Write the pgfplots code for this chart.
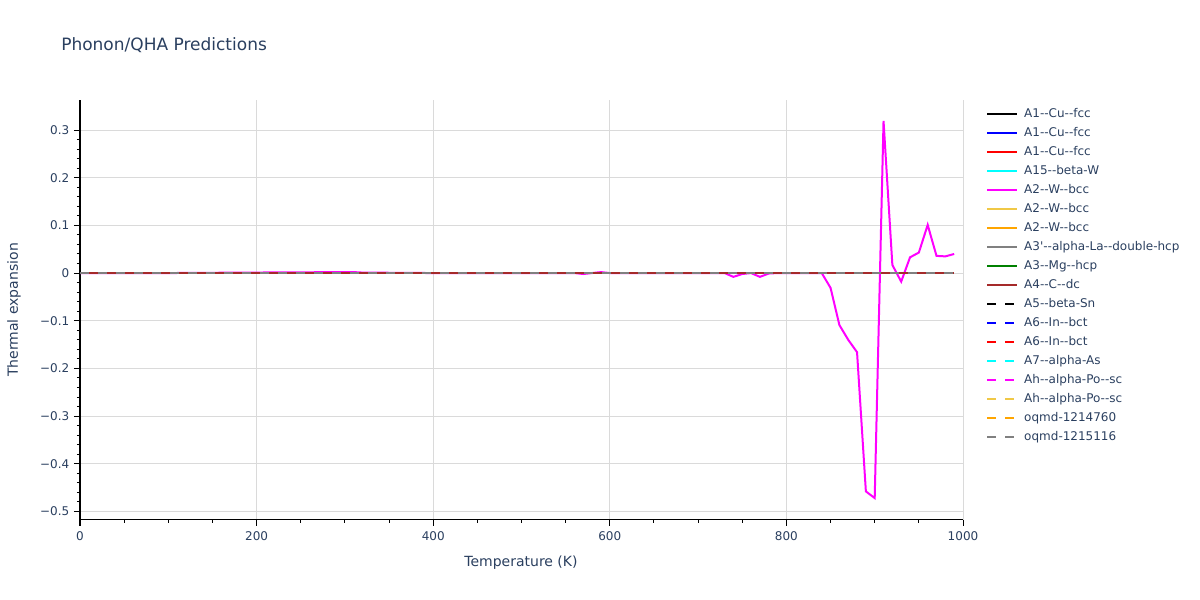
\documentclass[border=0pt]{standalone}
\usepackage{fontspec}
\setmainfont{DejaVu Sans}[Ligatures=TeXOff]
\usepackage{pgfplots}
\pgfplotsset{compat=1.18}
\definecolor{txt}{RGB}{42,63,95}
\definecolor{gridc}{RGB}{218,218,218}
\definecolor{gold}{RGB}{240,200,70}
\definecolor{orng}{RGB}{255,165,0}
\definecolor{grayc}{RGB}{128,128,128}
\definecolor{grn}{RGB}{0,128,0}
\definecolor{brwn}{RGB}{165,42,42}
\definecolor{mag}{RGB}{255,0,255}
\definecolor{cyn}{RGB}{0,255,255}
\definecolor{blu}{RGB}{0,0,255}
\definecolor{rd}{RGB}{255,0,0}
\begin{document}
\begin{tikzpicture}
\path[use as bounding box] (0pt,0pt) rectangle (900pt,450pt);
\node[anchor=west,text=txt,font=\fontsize{12.75}{15}\selectfont,inner sep=0pt] at (45.75pt,416.25pt) {Phonon/QHA Predictions};
\node[text=txt,font=\fontsize{10.5}{12}\selectfont,inner sep=0pt] at (390.75pt,27.75pt) {Temperature (K)};
\node[text=txt,font=\fontsize{10.5}{12}\selectfont,inner sep=0pt,rotate=90] at (10.5pt,217.5pt) {Thermal expansion};
\begin{axis}[
  at={(60pt,60pt)}, anchor=south west,
  scale only axis, width=662.25pt, height=315pt,
  xmin=0, xmax=1000, ymin=-0.518, ymax=0.363,
  axis x line*=bottom, axis y line*=left,
  axis line style={black, line width=0.75pt, -},
  xtick={0,200,400,600,800,1000},
  xticklabels={0,200,400,600,800,1000},
  minor x tick num=3,
  ytick={-0.5,-0.4,-0.3,-0.2,-0.1,0,0.1,0.2,0.3},
  yticklabels={−0.5,−0.4,−0.3,−0.2,−0.1,0,0.1,0.2,0.3},
  minor y tick num=4,
  tick align=outside,
  major tick length=4.5pt, minor tick length=2.25pt,
  tick style={black, line width=0.75pt},
  grid=major,
  major grid style={gridc, line width=0.75pt},
  ticklabel style={text=txt, font=\fontsize{9}{11}\selectfont},
  xticklabel style={yshift=-1pt},
  clip=true,
  legend style={at={(1.026,0.981)}, anchor=north west, draw=none, fill=none,
    inner sep=0pt, font=\fontsize{9}{11}\selectfont, text=txt,
    nodes={inner sep=0pt, text height=7pt, text depth=2pt, anchor=west},
    row sep=5.25pt, column sep=4.5pt},
  legend cell align=left,
  legend image code/.code={\draw[#1] (0pt,0pt) -- (22.5pt,0pt);},
  every axis plot/.append style={line width=1.5pt, mark=none},
]
\addplot[black] coordinates {(0,0) (990,0)};
\addlegendentry{A1--Cu--fcc}
\addplot[blu] coordinates {(0,0) (990,0)};
\addlegendentry{A1--Cu--fcc}
\addplot[rd] coordinates {(0,0) (990,0)};
\addlegendentry{A1--Cu--fcc}
\addplot[cyn] coordinates {(0,0) (990,0)};
\addlegendentry{A15--beta-W}
\addplot[mag] coordinates {
(0,0) (100,0) (190,0.001) (300,0.002) (310,0.002) (320,0.001) (400,0)
(560,0) (570,-0.002) (580,0) (590,0.002) (600,0) (730,0) (740,-0.008)
(750,-0.002) (760,0) (770,-0.008) (780,-0.001) (790,0) (840,0)
(850,-0.031) (860,-0.109) (870,-0.140) (880,-0.166) (890,-0.458)
(900,-0.472) (910,0.319) (920,0.017) (930,-0.018) (940,0.033)
(950,0.043) (960,0.101) (970,0.036) (980,0.035) (990,0.040)};
\addlegendentry{A2--W--bcc}
\addplot[gold] coordinates {(0,0) (990,0)};
\addlegendentry{A2--W--bcc}
\addplot[orng] coordinates {(0,0) (990,0)};
\addlegendentry{A2--W--bcc}
\addplot[grayc] coordinates {(0,0) (990,0)};
\addlegendentry{A3'--alpha-La--double-hcp}
\addplot[grn] coordinates {(0,0) (990,0)};
\addlegendentry{A3--Mg--hcp}
\addplot[brwn] coordinates {(0,0) (990,0)};
\addlegendentry{A4--C--dc}
\addplot[black, dash pattern=on 6.75pt off 6.75pt] coordinates {(0,0) (990,0)};
\addlegendentry{A5--beta-Sn}
\addplot[blu, dash pattern=on 6.75pt off 6.75pt] coordinates {(0,0) (990,0)};
\addlegendentry{A6--In--bct}
\addplot[rd, dash pattern=on 6.75pt off 6.75pt] coordinates {(0,0) (990,0)};
\addlegendentry{A6--In--bct}
\addplot[cyn, dash pattern=on 6.75pt off 6.75pt] coordinates {(0,0) (990,0)};
\addlegendentry{A7--alpha-As}
\addplot[mag, dash pattern=on 6.75pt off 6.75pt] coordinates {(0,0) (990,0)};
\addlegendentry{Ah--alpha-Po--sc}
\addplot[gold, dash pattern=on 6.75pt off 6.75pt] coordinates {(0,0) (990,0)};
\addlegendentry{Ah--alpha-Po--sc}
\addplot[orng, dash pattern=on 6.75pt off 6.75pt] coordinates {(0,0) (990,0)};
\addlegendentry{oqmd-1214760}
\addplot[grayc, dash pattern=on 6.75pt off 6.75pt] coordinates {(0,0) (990,0)};
\addlegendentry{oqmd-1215116}
\end{axis}
\end{tikzpicture}
\end{document}
